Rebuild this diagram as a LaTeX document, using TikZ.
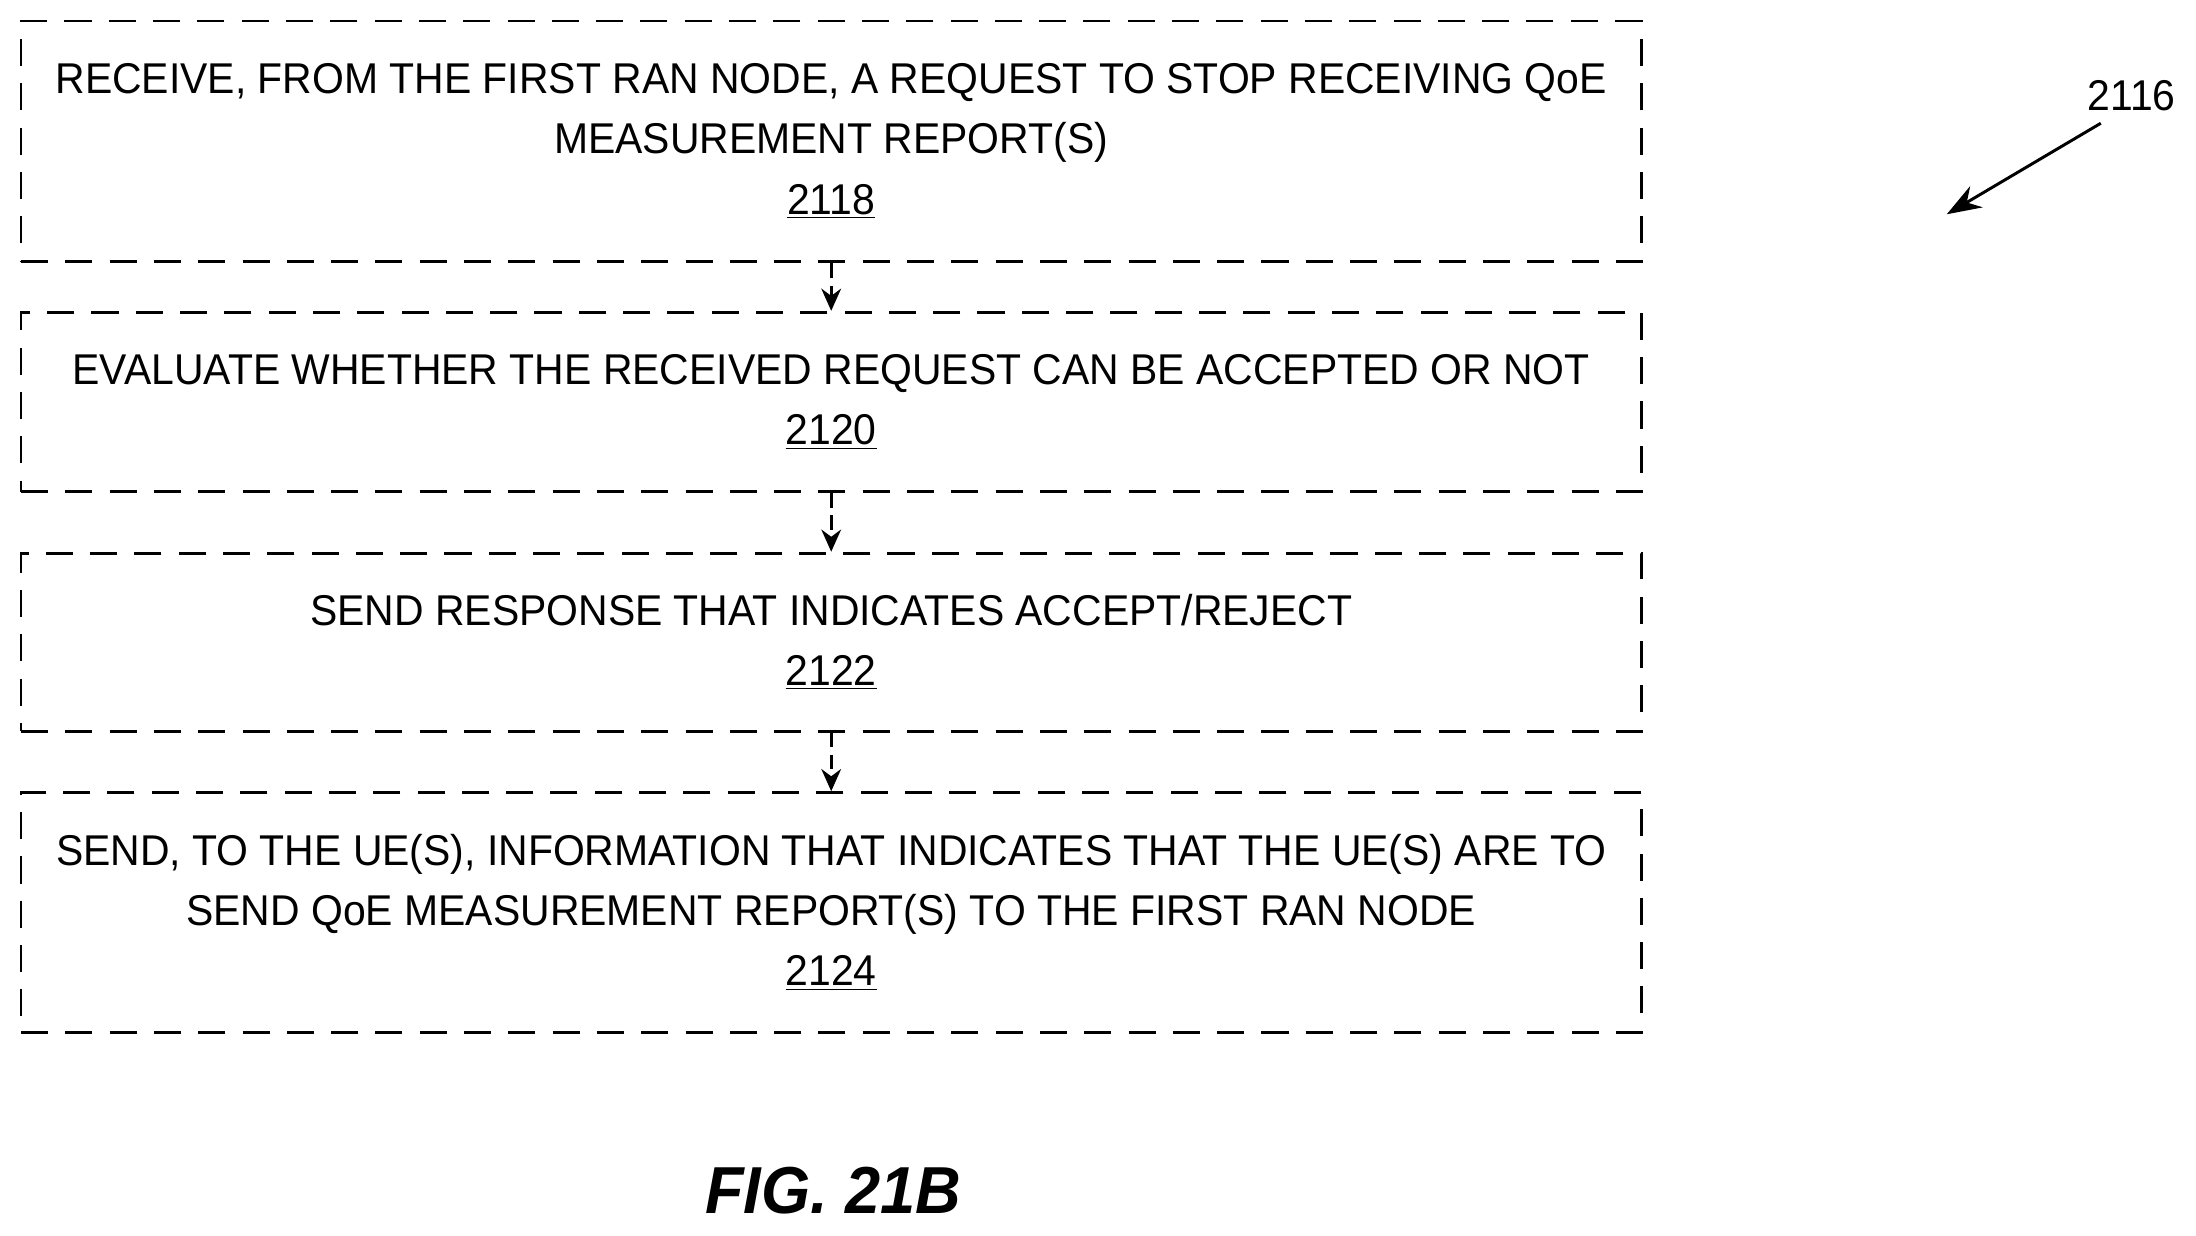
\documentclass[tikz,border=0pt]{standalone}
\usepackage{fontspec}
\setmainfont{Liberation Sans}[FakeStretch=0.95]
\usetikzlibrary{arrows.meta}
\tikzset{
  flowbox/.style={draw, very thick, dash pattern=on 11pt off 7pt, minimum width=23.14cm, align=center, font=\fontsize{17.5}{24.5}\selectfont, inner sep=0pt},
  flow/.style={very thick, dash pattern=on 6pt off 3pt, -{Stealth[length=9pt,width=8pt]}}
}
\begin{document}
\begin{tikzpicture}
  \useasboundingbox (0,0) rectangle (31.36,-17.64);

  \node[flowbox, minimum height=3.44cm] (s2118) at (11.87,-2.02)
    {RECEIVE, FROM THE FIRST RAN NODE, A REQUEST TO STOP RECEIVING QoE\\ MEASUREMENT REPORT(S)\\ \underline{2118}};
  \node[flowbox, minimum height=2.56cm] (s2120) at (11.87,-5.74)
    {EVALUATE WHETHER THE RECEIVED REQUEST CAN BE ACCEPTED OR NOT\\ \underline{2120}};
  \node[flowbox, minimum height=2.54cm] (s2122) at (11.87,-9.17)
    {SEND RESPONSE THAT INDICATES ACCEPT/REJECT\\ \underline{2122}};
  \node[flowbox, minimum height=3.42cm] (s2124) at (11.87,-13.03)
    {SEND, TO THE UE(S), INFORMATION THAT INDICATES THAT THE UE(S) ARE TO\\ SEND QoE MEASUREMENT REPORT(S) TO THE FIRST RAN NODE\\ \underline{2124}};

  \draw[flow] (s2118) -- (s2120);
  \draw[flow] (s2120) -- (s2122);
  \draw[flow] (s2122) -- (s2124);

  % figure reference
  \node[font=\fontsize{17.5}{20}\selectfont] (ref) at (30.44,-1.36) {2116};
  \coordinate (refend) at (27.8,-3.06);
  \draw[very thick, -{Stealth[length=14pt,width=10pt]}] (30.0,-1.76) -- (refend);

  \node[font=\bfseries\itshape\fontsize{27}{30}\selectfont] (fig) at (11.9,-17.0) {FIG. 21B};
\end{tikzpicture}
\end{document}
